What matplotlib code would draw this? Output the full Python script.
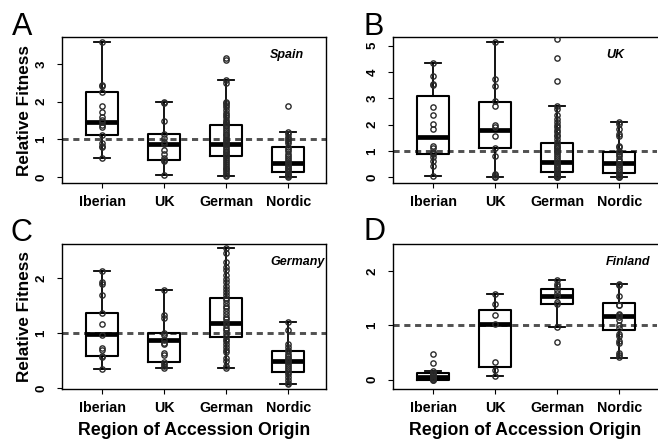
import numpy as np
import matplotlib.pyplot as plt

plt.rcParams['font.family'] = ['Liberation Sans', 'DejaVu Sans']

regions = ['Iberian', 'UK', 'German', 'Nordic']
sites = ['Spain', 'UK', 'Germany', 'Finland']
letters = ['A', 'B', 'C', 'D']

# box stats, one row per region: [whislo, q1, median, q3, whishi]
spain_box = [[0.50, 1.10, 1.47, 2.24, 3.57],
             [0.05, 0.46, 0.87, 1.14, 2.00],
             [0.03, 0.565, 0.875, 1.38, 2.57],
             [0.00, 0.14, 0.36, 0.79, 1.18]]
uk_box = [[0.05, 0.87, 1.51, 3.09, 4.36],
          [0.00, 1.10, 1.80, 2.85, 5.13],
          [0.00, 0.19, 0.59, 1.29, 2.71],
          [0.00, 0.15, 0.53, 0.97, 2.11]]
germany_box = [[0.35, 0.59, 0.975, 1.36, 2.13],
               [0.36, 0.47, 0.866, 1.00, 1.79],
               [0.36, 0.92, 1.19, 1.64, 2.54],
               [0.07, 0.30, 0.50, 0.68, 1.21]]
finland_box = [[0.00, 0.00, 0.055, 0.12, 0.16],
               [0.07, 0.24, 1.03, 1.29, 1.58],
               [0.98, 1.40, 1.55, 1.67, 1.83],
               [0.41, 0.92, 1.18, 1.41, 1.77]]

# relative fitness of each accession
spain_pts = [
    [3.57, 2.44, 2.40, 2.26, 1.88, 1.73, 1.60, 1.51, 1.46, 1.38, 1.33, 1.10, 0.89, 0.82, 0.80, 0.50],
    [2.00, 1.95, 1.49, 1.14, 1.03, 0.94, 0.87, 0.72, 0.60, 0.50, 0.45, 0.41, 0.05],
    [3.15, 3.10, 2.57, 2.50, 2.00, 1.95, 1.90, 1.85, 1.78, 1.70, 1.65, 1.58, 1.50, 1.45, 1.42,
     1.38, 1.35, 1.30, 1.25, 1.20, 1.15, 1.10, 1.05, 1.00, 0.97, 0.93, 0.90, 0.87, 0.84, 0.80,
     0.75, 0.70, 0.66, 0.62, 0.58, 0.55, 0.50, 0.45, 0.40, 0.35, 0.30, 0.25, 0.20, 0.15, 0.10,
     0.05, 0.03],
    [1.88, 1.18, 1.15, 1.05, 1.00, 0.95, 0.90, 0.80, 0.75, 0.68, 0.60, 0.55, 0.50, 0.45, 0.40,
     0.37, 0.33, 0.30, 0.25, 0.20, 0.15, 0.12, 0.08, 0.05, 0.02, 0.00]]
uk_pts = [
    [4.36, 3.83, 3.54, 3.52, 2.66, 2.37, 2.02, 1.83, 1.18, 1.10, 0.97, 0.92, 0.87, 0.78, 0.62, 0.43, 0.05],
    [5.13, 3.73, 3.47, 2.88, 2.72, 1.99, 1.92, 1.57, 1.12, 0.82, 0.14, 0.09, 0.02, 0.00],
    [5.26, 4.52, 3.64, 2.71, 2.60, 2.35, 2.20, 2.10, 2.00, 1.90, 1.80, 1.70, 1.62, 1.55, 1.45,
     1.35, 1.28, 1.20, 1.15, 1.10, 1.05, 1.00, 0.95, 0.88, 0.80, 0.72, 0.65, 0.58, 0.50, 0.45,
     0.40, 0.35, 0.28, 0.22, 0.18, 0.14, 0.10, 0.07, 0.05, 0.03, 0.01, 0.00],
    [2.11, 2.02, 1.85, 1.65, 1.55, 1.20, 1.15, 1.00, 0.95, 0.90, 0.80, 0.70, 0.60, 0.52, 0.45,
     0.38, 0.30, 0.22, 0.15, 0.10, 0.05, 0.02, 0.00]]
germany_pts = [
    [2.13, 1.93, 1.89, 1.69, 1.36, 1.16, 0.97, 0.73, 0.69, 0.59, 0.56, 0.35],
    [1.79, 1.32, 1.28, 1.00, 0.97, 0.88, 0.82, 0.80, 0.64, 0.60, 0.47, 0.43, 0.40, 0.36],
    [2.54, 2.45, 2.30, 2.20, 2.15, 2.05, 1.98, 1.92, 1.85, 1.80, 1.75, 1.70, 1.64, 1.60, 1.55,
     1.50, 1.45, 1.40, 1.35, 1.30, 1.25, 1.20, 1.15, 1.10, 1.05, 1.00, 0.95, 0.90, 0.85, 0.80,
     0.75, 0.70, 0.65, 0.55, 0.50, 0.40, 0.36],
    [1.21, 1.05, 0.80, 0.75, 0.70, 0.68, 0.62, 0.58, 0.55, 0.52, 0.50, 0.47, 0.44, 0.40, 0.36,
     0.32, 0.30, 0.25, 0.20, 0.15, 0.10, 0.07]]
finland_pts = [
    [0.47, 0.30, 0.16, 0.13, 0.10, 0.08, 0.06, 0.05, 0.03, 0.01, 0.00, 0.00],
    [1.58, 1.40, 1.19, 1.03, 0.33, 0.18, 0.07],
    [1.83, 1.77, 1.72, 1.66, 1.60, 1.55, 1.44, 1.40, 0.97, 0.70],
    [1.77, 1.75, 1.55, 1.38, 1.37, 1.22, 1.20, 1.15, 1.10, 1.00, 0.95, 0.85, 0.80, 0.72, 0.68,
     0.50, 0.45, 0.42]]

y_limits = [(-0.16, 3.71), (-0.22, 5.33), (-0.018, 2.62), (-0.17, 2.50)]
y_ticks = [[0, 1, 2, 3], [0, 1, 2, 3, 4, 5], [0, 1, 2], [0, 1, 2]]
site_x = [3.71, 3.79, 3.71, 3.78]


def draw_panel(ax, box, pts, ylim, yticks, site, sx):
    ax.axhline(1, color='#505050', lw=2.1, ls=(0, (2.1, 1.6)), zorder=1)
    stats = []
    for b in box:
        stats.append({'whislo': b[0], 'q1': b[1], 'med': b[2], 'q3': b[3], 'whishi': b[4]})
    ax.bxp(stats, positions=[1, 2, 3, 4], widths=0.52, capwidths=0.26, showfliers=False,
           boxprops=dict(color='black', lw=1.5),
           whiskerprops=dict(color='black', lw=1.3),
           capprops=dict(color='black', lw=1.3),
           medianprops=dict(color='black', lw=3.4, solid_capstyle='butt'),
           manage_ticks=False, zorder=2)
    for i, p in enumerate(pts):
        ax.plot(np.full(len(p), i + 1), p, 'o', ms=3.8, mfc='none', mec='#2a2a2a',
                mew=1.0, zorder=3)
    ax.set_xlim(0.355, 4.61)
    ax.set_ylim(*ylim)
    ax.set_xticks([1, 2, 3, 4])
    ax.set_xticklabels(regions, fontsize=10.3, fontweight='bold')
    ax.set_yticks(yticks)
    ax.set_yticklabels([str(t) for t in yticks], fontsize=9.5, fontweight='bold',
                       rotation=90, va='center')
    ax.tick_params(axis='x', length=3.6, width=0.8, pad=5.3)
    ax.tick_params(axis='y', length=3.6, width=0.8, pad=7)
    for s in ax.spines.values():
        s.set_linewidth(1.0)
    ax.text(sx, 0.857, site, transform=ax.get_xaxis_transform(), fontsize=9,
            fontweight='bold', style='italic', va='baseline', ha='left')


fig = plt.figure(figsize=(6.58, 4.43), dpi=100)
W, H = 658.0, 443.0
boxes = [spain_box, uk_box, germany_box, finland_box]
points = [spain_pts, uk_pts, germany_pts, finland_pts]
# axes rectangles in pixels: left, top, right, bottom
rects = [(62, 37, 326, 183), (393, 37, 657, 183), (62, 244, 326, 389), (393, 244, 657, 389)]
letter_pos = [(12, 35), (364, 35), (11, 241), (364, 240)]

for k in range(4):
    l, t, r, b = rects[k]
    ax = fig.add_axes([l / W, 1 - b / H, (r - l) / W, (b - t) / H])
    draw_panel(ax, boxes[k], points[k], y_limits[k], y_ticks[k], sites[k], site_x[k])
    if k in (1, 3):
        ax.spines['right'].set_visible(False)
    if k in (0, 2):
        ax.set_ylabel('Relative Fitness', fontsize=12.3, fontweight='bold', labelpad=2)
    if k in (2, 3):
        ax.set_xlabel('Region of Accession Origin', fontsize=12.8, fontweight='bold', labelpad=4.5)
    lx, ly = letter_pos[k]
    fig.text(lx / W, 1 - ly / H, letters[k], fontsize=22, va='baseline', ha='left')

fig.savefig('out.png', dpi=100)
